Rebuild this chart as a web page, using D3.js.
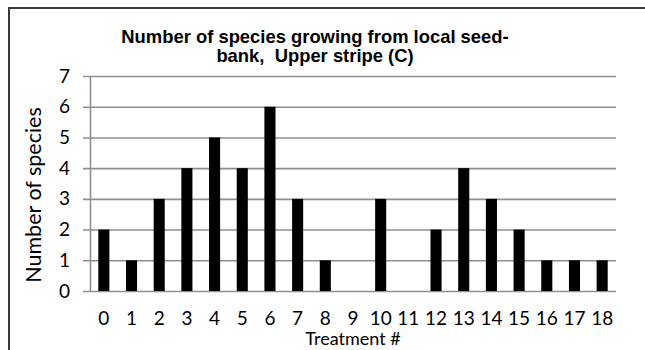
<!DOCTYPE html>
<html>
<head>
<meta charset="utf-8">
<script src="https://cdn.jsdelivr.net/npm/d3@7"></script>
<style>
  body { margin: 0; background: #fff; }
  svg { display: block; }
</style>
</head>
<body>
<div id="chart"></div>
<script>
// data
const treatments = ["0","1","2","3","4","5","6","7","8","9","10","11","12","13","14","15","16","17","18"];
const speciesCount = [2, 1, 3, 4, 5, 4, 6, 3, 1, 0, 3, 0, 2, 4, 3, 2, 1, 1, 1];
const yTicks = [0, 1, 2, 3, 4, 5, 6, 7];
const titleLines = ["Number of species growing from local seed-", "bank,  Upper stripe (C)"];

const width = 645, height = 350;
const margin = {top: 76, left: 90, right: 29, bottom: 59};
const bodyFont = "Lato, 'Open Sans', sans-serif";

const svg = d3.select("#chart").append("svg")
    .attr("width", width)
    .attr("height", height);

// frame (only top & left edges visible)
svg.append("path")
    .attr("d", `M9,${height} L9,8 L${width},8`)
    .attr("fill", "none")
    .attr("stroke", "#3a3a3a")
    .attr("stroke-width", 2);

/***** SCALES *****/
const xScale = d3.scaleBand()
    .domain(treatments)
    .range([margin.left, width - margin.right])
    .paddingInner(0.6)
    .paddingOuter(0.3);

const yScale = d3.scaleLinear()
    .domain([0, 7])
    .range([height - margin.bottom, margin.top]);

/***** GRIDLINES + Y AXIS *****/
svg.append("g")
    .attr("class", "yGrid")
    .attr("transform", `translate(${width - margin.right}, 0)`)
    .call(d3.axisLeft(yScale)
        .tickValues(yTicks)
        .tickSize(width - margin.right - margin.left + 7)
        .tickFormat(""))
    .call(g => g.select(".domain").remove())
    .selectAll("line")
        .attr("stroke", "#8f8f8f")
        .attr("stroke-width", 1.6);

svg.append("g")
    .attr("class", "yAxis")
    .attr("transform", `translate(${margin.left}, 0)`)
    .call(d3.axisLeft(yScale)
        .tickValues(yTicks)
        .tickFormat(d3.format("d"))
        .tickSize(0)
        .tickPadding(20))
    .call(g => g.select(".domain")
        .attr("stroke", "#8f8f8f")
        .attr("stroke-width", 1.6))
    .selectAll("text")
        .style("font-family", bodyFont)
        .style("font-size", "19px")
        .attr("fill", "#000");

/***** X AXIS *****/
svg.append("g")
    .attr("class", "xAxis")
    .attr("transform", `translate(0, ${height - margin.bottom})`)
    .call(d3.axisBottom(xScale)
        .tickSize(0)
        .tickPadding(20.5))
    .call(g => g.select(".domain").remove())
    .selectAll("text")
        .style("font-family", bodyFont)
        .style("font-size", "19px")
        .attr("fill", "#000");

/***** BARS *****/
svg.append("g")
    .selectAll("rect")
    .data(speciesCount)
    .join("rect")
        .attr("x", (d, i) => xScale(treatments[i]))
        .attr("y", d => yScale(d))
        .attr("width", xScale.bandwidth())
        .attr("height", d => yScale(0) - yScale(d))
        .attr("fill", "#000");

/***** TITLE & AXIS LABELS *****/
svg.append("g")
    .selectAll("text")
    .data(titleLines)
    .join("text")
        .attr("x", 315)
        .attr("y", (d, i) => 43 + i * 19)
        .attr("text-anchor", "middle")
        .style("white-space", "pre")
        .style("font-family", "'Liberation Sans', Arial, sans-serif")
        .style("font-weight", "bold")
        .style("font-size", "18.4px")
        .text(d => d);

svg.append("text")
    .attr("transform", `translate(41, 195) rotate(-90)`)
    .attr("text-anchor", "middle")
    .style("font-family", bodyFont)
    .style("font-size", "21.5px")
    .text("Number of species");

svg.append("text")
    .attr("x", (margin.left + width - margin.right) / 2)
    .attr("y", 345)
    .attr("text-anchor", "middle")
    .style("font-family", bodyFont)
    .style("font-size", "18px")
    .text("Treatment #");
</script>
</body>
</html>
